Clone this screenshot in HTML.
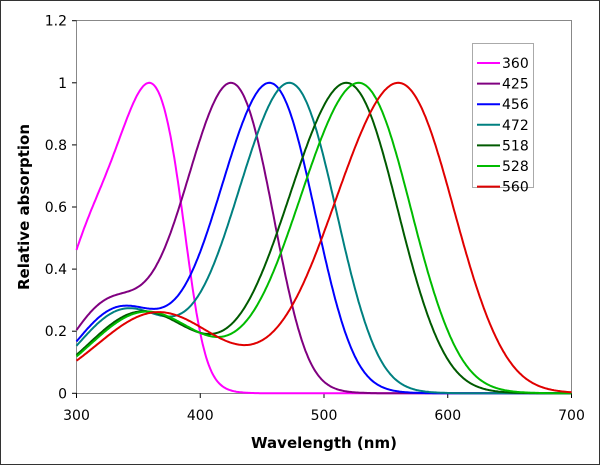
<!DOCTYPE html>
<html><head><meta charset="utf-8"><style>
html,body{margin:0;padding:0;background:#fff}
svg{display:block}
text{font-family:"DejaVu Sans","Liberation Sans",sans-serif;fill:#000}
</style></head><body>
<svg id="s" width="600" height="465" xmlns="http://www.w3.org/2000/svg">
<rect x="0.5" y="0.5" width="599" height="464" fill="#fff" stroke="#333" stroke-width="1"/>
<rect x="76.5" y="20.5" width="495" height="373" fill="none" stroke="#888" stroke-width="1"/>
<g id="ticks" font-size="14"></g>
<g id="curves" fill="none" stroke-width="2" stroke-linejoin="round"></g>
<text x="324" y="448" font-size="15" font-weight="bold" text-anchor="middle">Wavelength (nm)</text>
<text transform="translate(29,207) rotate(-90)" font-size="15" font-weight="bold" text-anchor="middle">Relative absorption</text>
<rect x="472.5" y="43.5" width="61" height="144" fill="#fff" stroke="#aaa"/>
<g id="leg" font-size="14"></g>
</svg>
<script>
var X0=76.5,X1=571.5,Y0=393.3,Y1=20.7;
function px(l){return X0+(l-300)/400*(X1-X0)}
function py(v){return Y0-v/1.2*(Y0-Y1)}
var t=document.getElementById('ticks'),h='';
for(var i=0;i<=6;i++){var v=i*0.2,y=py(v);h+='<line x1="72" x2="76.5" y1="'+y+'" y2="'+y+'" stroke="#000"/><text x="67" y="'+(y+5)+'" text-anchor="end">'+(i==0?'0':i==5?'1':(v.toFixed(1)))+'</text>';}
for(var l=300;l<=700;l+=100){var x=px(l);h+='<line x1="'+x+'" x2="'+x+'" y1="393.3" y2="398" stroke="#000"/><text x="'+x+'" y="420" text-anchor="middle">'+l+'</text>';}
t.innerHTML=h;
function gov(lm,l){var x=lm/l;var a=0.8795+0.0459*Math.exp(-Math.pow(lm-300,2)/11940);
var s=1/(Math.exp(69.7*(a-x))+Math.exp(28*(0.922-x))+Math.exp(-14.9*(1.104-x))+0.674);
var lb=189+0.315*lm,b=-40.5+0.195*lm;s+=0.26*Math.exp(-Math.pow((l-lb)/b,2));return s;}
var C=[[360,'#ff00ff'],[425,'#800080'],[456,'#0000ff'],[472,'#008080'],[518,'#005a00'],[528,'#00bb00'],[560,'#e00000']];
var g='';
C.forEach(function(c){var mx=0,v=[];for(var l=300;l<=700;l+=1){var s=gov(c[0],l);v.push(s);if(s>mx)mx=s;}
var d='';v.forEach(function(s,i){d+=(i?'L':'M')+px(300+i).toFixed(1)+','+py(s/mx).toFixed(1);});
g+='<path d="'+d+'" stroke="'+c[1]+'"/>';});
document.getElementById('curves').innerHTML=g;
var lg='';C.forEach(function(c,i){var y=63+i*20.6;lg+='<line x1="477" x2="500" y1="'+y+'" y2="'+y+'" stroke="'+c[1]+'" stroke-width="2"/><text x="502" y="'+(y+5)+'">'+c[0]+'</text>';});
document.getElementById('leg').innerHTML=lg;
</script>
</body></html>
